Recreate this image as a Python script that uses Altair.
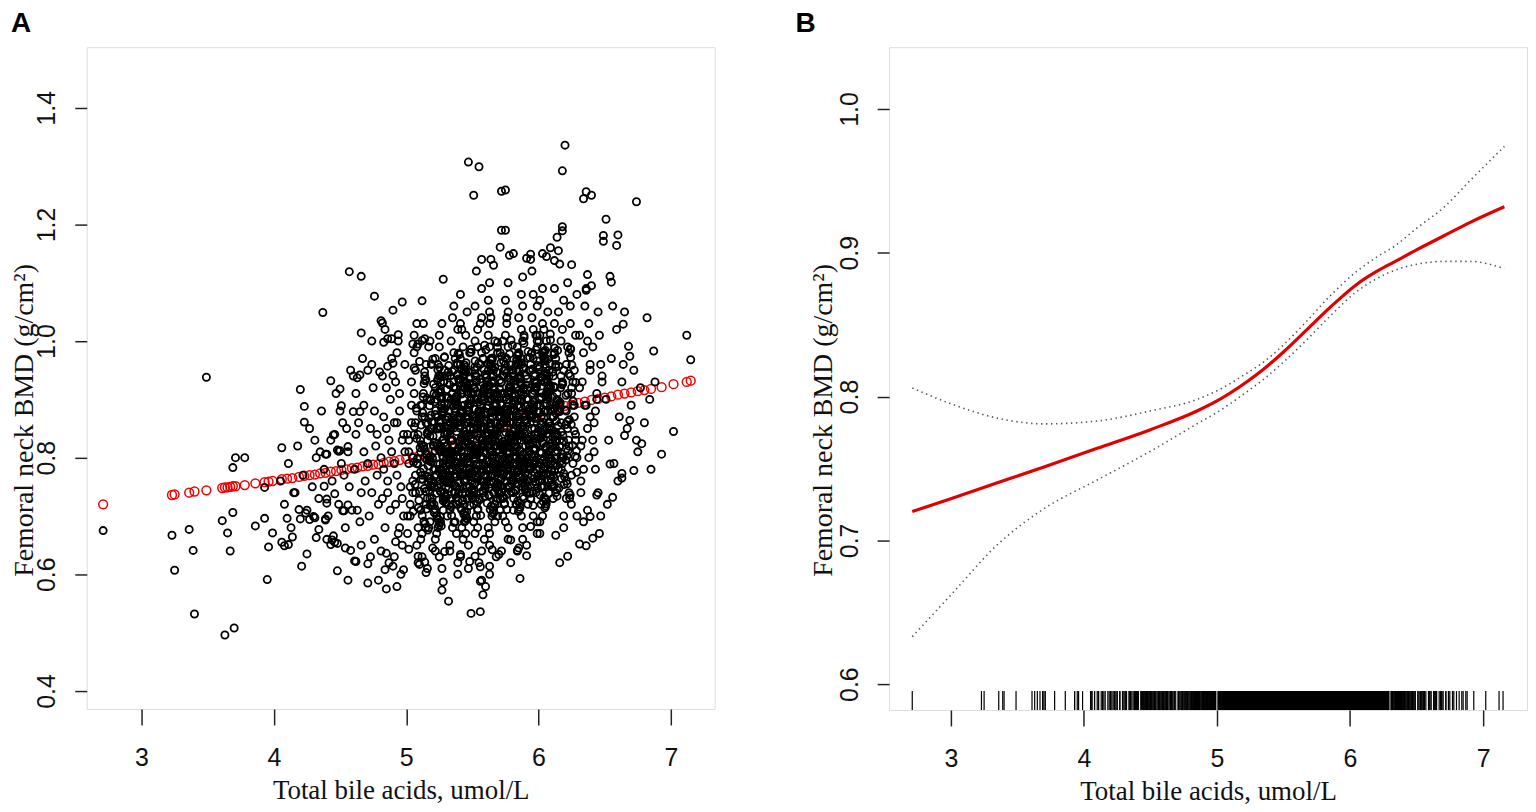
import altair as alt
import pandas as pd

# ---------------- Panel A: scatter (Total bile acids vs femoral neck BMD) ----------------
left_tail = [(2.71,0.675),(3.23,0.667),(3.25,0.607),(3.36,0.677),(3.39,0.641),(3.40,0.532),(3.49,0.938),
    (3.61,0.692),(3.63,0.496),(3.65,0.671),(3.67,0.640),(3.69,0.706),(3.70,0.508),(3.69,0.783),(3.71,0.800),
    (3.78,0.800),(3.86,0.683),(3.93,0.696),(3.93,0.749),(3.96,0.647),(3.95,0.591),(3.99,0.671)]

mid_left = [(4.06,0.817),(4.06,0.655),(4.08,0.649),(4.11,0.651),(4.14,0.664),(4.10,0.696),(4.19,0.711),(4.20,0.695),
    (4.24,0.705),(4.27,0.694),(4.31,0.697),(4.15,0.740),(4.20,0.917),(4.23,0.888),(4.23,0.861),(4.31,0.830),
    (4.25,0.635),(4.21,0.614),(4.39,0.693),(4.34,0.677),(4.32,0.663),(4.39,0.806),(4.38,0.751),(4.46,0.738),
    (4.40,0.729),(4.43,0.932),(4.50,0.918),(4.51,0.889),(4.50,0.880),(4.45,0.839),(4.55,0.850),(4.56,0.819),
    (4.48,0.813),(4.50,0.812),(4.53,0.709),(4.45,0.666),(4.48,0.653),(4.44,0.659),(4.43,0.651),(4.54,0.645),
    (4.58,0.641),(4.48,0.606),(4.56,0.590),(4.61,0.623),(4.71,0.585),(4.79,0.590),(4.71,0.618),(4.85,0.575),
    (4.93,0.579),(4.60,0.940),(4.65,0.942),(4.60,0.879),(4.65,0.879),(4.63,0.937),(4.46,0.655),(4.40,0.806),
    (4.49,0.811),(4.40,0.722),(4.52,0.709),(4.56,0.719),(4.30,0.699),(4.39,0.695)]

upper_cloud = [(6.20,1.336),(6.18,1.292),(5.47,1.307),(5.55,1.299),(5.51,1.250),(5.72,1.257),(5.75,1.259),
    (6.36,1.256),(6.34,1.244),(6.40,1.250),(6.74,1.239),(6.51,1.209),(6.49,1.181),(6.49,1.171),(6.60,1.182),
    (6.59,1.164),(5.72,1.190),(5.75,1.190),(6.18,1.196),(6.18,1.189),(6.14,1.178),(5.71,1.161),(5.78,1.147),
    (5.81,1.150),(5.91,1.142),(5.94,1.149),(6.03,1.150),(6.06,1.145),(6.09,1.160),(6.12,1.138),(6.15,1.155),
    (6.16,1.132),(6.25,1.131),(5.57,1.140),(5.64,1.140),(4.57,1.119),(4.66,1.111),(4.76,1.077),(4.37,1.049),
    (4.66,1.014),(5.28,1.106),(6.37,1.114),(6.54,1.111),(6.55,1.101),(6.40,1.095),(6.36,1.087),(6.65,1.050),
    (6.64,1.029),(6.68,0.991),(6.69,0.974),(6.87,0.983),(7.12,1.010),(7.15,0.968),(7.02,0.845),(6.84,0.900),
    (4.74,0.960),(4.80,0.947),(4.86,0.957),(4.90,0.962),(4.90,0.941),(4.83,0.998),(4.86,1.004),(4.89,1.004),
    (4.94,1.011),(4.97,1.067),(4.90,1.053),(4.81,1.035),(4.82,1.031),(5.08,1.030),(5.12,1.069),(5.05,0.995),
    (5.09,0.995),(5.12,1.001),(5.14,1.004),(5.06,0.954)]

lower_cloud = [(6.93,0.806),(6.72,0.778),(6.56,0.732),(6.63,0.773),(6.63,0.765),(6.41,0.662),(6.36,0.649),
    (6.31,0.652),(6.22,0.631),(6.16,0.620),(6.13,0.667),(5.86,0.593),(5.91,0.632),(5.85,0.645),(5.84,0.641),
    (5.49,0.533),(5.56,0.536),(5.32,0.554),(5.27,0.573),(5.28,0.587),(5.56,0.588),(5.58,0.565),(5.60,0.579),
    (5.56,0.613),(5.63,0.614),(4.62,0.622),(4.84,0.608),(4.90,0.614),(4.98,0.608),(5.10,0.617),(5.14,0.621),
    (5.15,0.603),(4.85,0.636),(4.92,0.656),(5.02,0.643),(5.09,0.631),(5.20,0.645),(5.29,0.639),(5.41,0.634),
    (5.48,0.622),(5.52,0.631),(5.70,0.634),(5.65,0.642),(5.79,0.659),(5.94,0.682),(6.39,0.699),(6.44,0.736),
    (6.54,0.789),(6.78,0.824),(6.69,0.864),(6.65,0.838),(6.74,0.830)]

core_40_46 = [(4.05,0.76),(4.08,0.72),(4.11,0.79),(4.13,0.68),(4.16,0.74),(4.18,0.82),(4.22,0.77),(4.25,0.71),
    (4.27,0.85),(4.29,0.75),(4.32,0.80),(4.34,0.73),(4.36,0.88),(4.38,0.78),(4.41,0.70),(4.43,0.83),(4.44,0.76),
    (4.47,0.91),(4.49,0.72),(4.51,0.79),(4.52,0.86),(4.54,0.68),(4.56,0.81),(4.57,0.75),(4.58,0.95),(4.59,0.71),
    (4.53,0.77),(4.46,0.84),(4.40,0.66),(4.35,0.81)]

core_46_50 = [(4.61,0.78),(4.63,0.71),(4.64,0.86),(4.66,0.74),(4.62,0.91),(4.68,0.81),(4.65,0.69),(4.67,0.97),
    (4.69,0.76),(4.62,0.84),(4.66,0.65),(4.68,0.89),(4.71,0.79),(4.72,0.70),(4.73,0.85),(4.74,0.74),(4.75,0.92),
    (4.76,0.66),(4.77,0.82),(4.78,0.77),(4.71,0.95),(4.73,0.63),(4.76,0.88),(4.79,0.72),(4.74,1.00),(4.78,0.84),
    (4.81,0.80),(4.82,0.73),(4.83,0.87),(4.84,0.68),(4.85,0.92),(4.86,0.76),(4.87,0.83),(4.88,0.71),(4.89,0.97),
    (4.81,0.64),(4.83,0.78),(4.85,0.85),(4.87,0.62),(4.88,0.90),(4.84,1.02),(4.86,0.74),(4.89,0.81),(4.82,0.94),
    (4.91,0.79),(4.92,0.72),(4.93,0.86),(4.94,0.67),(4.95,0.91),(4.96,0.75),(4.97,0.83),(4.98,0.70),(4.99,0.96),
    (4.91,0.63),(4.93,0.77),(4.95,0.88),(4.96,0.60),(4.98,0.84),(4.94,1.00),(4.97,0.73),(4.92,0.93),(4.99,0.81),
    (4.95,0.68),(4.91,0.86),(4.97,0.65),(4.93,0.98)]

core_50_53 = [(5.02,0.81),(5.05,0.74),(5.08,0.88),(5.01,0.70),(5.04,0.93),(5.07,0.77),(5.09,0.84),(5.03,0.72),
    (5.06,0.98),(5.08,0.65),(5.02,0.79),(5.04,0.89),(5.09,0.62),(5.01,0.84),(5.06,1.01),(5.03,0.75),(5.07,0.95),
    (5.05,0.80),(5.09,0.68),(5.04,0.86),(5.01,0.67),(5.08,0.99),(5.02,0.83),(5.06,0.91),(5.05,0.76),(5.07,0.86),
    (5.03,0.70),(5.08,0.79),
    (5.13,0.82),(5.16,0.73),(5.11,0.89),(5.18,0.69),(5.14,0.94),(5.12,0.77),(5.19,0.85),(5.15,0.72),(5.17,0.99),
    (5.11,0.66),(5.14,0.80),(5.18,0.90),(5.12,0.63),(5.16,0.84),(5.13,1.03),(5.19,0.75),(5.15,0.96),(5.11,0.81),
    (5.17,0.68),(5.14,0.87),(5.12,0.67),(5.18,1.00),(5.16,0.83),(5.13,0.91),(5.19,0.76),(5.15,0.86),(5.11,0.71),
    (5.17,0.80),(5.18,0.73),(5.12,0.89),(5.16,0.61),(5.14,0.77),(5.19,0.96),(5.13,0.82),
    (5.24,0.82),(5.21,0.75),(5.27,0.89),(5.23,0.70),(5.29,0.94),(5.22,0.78),(5.26,0.86),(5.28,0.73),(5.25,0.99),
    (5.22,0.66),(5.28,0.80),(5.21,0.91),(5.25,0.63),(5.23,0.85),(5.27,1.03),(5.29,0.76),(5.24,0.96),(5.21,0.82),
    (5.26,0.69),(5.28,0.88),(5.23,0.67),(5.25,1.01),(5.29,0.84),(5.22,0.92),(5.27,0.77),(5.24,0.87),(5.21,0.72),
    (5.26,0.81),(5.29,0.74),(5.23,0.90),(5.27,0.61),(5.25,0.78),(5.22,0.97),(5.28,0.83),(5.24,0.68),(5.26,0.93),
    (5.21,0.71),(5.28,0.79),(5.23,0.87),(5.29,0.95),(5.25,0.85),(5.22,0.64)]

core_53_56 = [(5.35,0.83),(5.31,0.76),(5.38,0.90),(5.33,0.71),(5.36,0.95),(5.39,0.79),(5.32,0.87),(5.37,0.74),
    (5.34,1.00),(5.38,0.67),(5.31,0.81),(5.36,0.92),(5.33,0.64),(5.39,0.86),(5.35,1.04),(5.32,0.77),(5.37,0.97),
    (5.34,0.83),(5.31,0.70),(5.38,0.89),(5.35,0.68),(5.39,1.02),(5.32,0.85),(5.36,0.93),(5.33,0.78),(5.37,0.88),
    (5.34,0.73),(5.31,0.82),(5.38,0.75),(5.35,0.91),(5.39,0.62),(5.32,0.79),(5.36,0.98),(5.33,0.84),(5.37,0.69),
    (5.31,0.94),(5.38,0.72),(5.34,0.80),(5.32,0.88),(5.39,0.96),(5.36,0.86),(5.33,0.65),(5.37,0.74),(5.35,0.83),
    (5.31,0.87),(5.38,0.79),(5.34,0.90),(5.32,0.76),(5.36,1.06),(5.39,0.60),
    (5.46,0.84),(5.42,0.77),(5.49,0.91),(5.44,0.72),(5.41,0.96),(5.47,0.80),(5.43,0.88),(5.48,0.75),(5.45,1.01),
    (5.42,0.68),(5.49,0.82),(5.44,0.93),(5.47,0.65),(5.41,0.87),(5.46,1.05),(5.43,0.78),(5.48,0.98),(5.45,0.84),
    (5.42,0.71),(5.49,0.90),(5.44,0.69),(5.41,1.03),(5.47,0.86),(5.43,0.94),(5.46,0.79),(5.48,0.89),(5.45,0.74),
    (5.42,0.83),(5.49,0.76),(5.44,0.92),(5.41,0.63),(5.47,0.80),(5.43,0.99),(5.48,0.85),(5.45,0.70),(5.42,0.95),
    (5.46,0.73),(5.49,0.81),(5.44,0.89),(5.41,0.97),(5.47,0.87),(5.43,0.66),(5.48,0.75),(5.45,0.84),(5.42,0.88),
    (5.46,0.80),(5.49,0.91),(5.44,0.77),(5.41,1.08),(5.47,0.61),(5.43,0.93),(5.48,0.82),(5.45,0.67),(5.42,1.02),
    (5.46,0.86),(5.44,0.76),
    (5.57,0.85),(5.53,0.78),(5.51,0.92),(5.55,0.73),(5.58,0.97),(5.52,0.81),(5.56,0.89),(5.59,0.76),(5.54,1.02),
    (5.51,0.69),(5.57,0.83),(5.53,0.94),(5.59,0.66),(5.55,0.88),(5.52,1.06),(5.58,0.79),(5.54,0.99),(5.56,0.85),
    (5.51,0.72),(5.59,0.91),(5.53,0.70),(5.57,1.04),(5.55,0.87),(5.52,0.95),(5.58,0.80),(5.54,0.90),(5.56,0.75),
    (5.51,0.84),(5.59,0.77),(5.53,0.93),(5.57,0.64),(5.55,0.81),(5.52,1.00),(5.58,0.86),(5.54,0.71),(5.56,0.96),
    (5.51,0.74),(5.59,0.82),(5.53,0.90),(5.57,0.98),(5.55,0.88),(5.52,0.67),(5.58,0.76),(5.54,0.85),(5.56,0.89),
    (5.51,0.81),(5.59,0.92),(5.53,0.78),(5.57,1.09),(5.55,0.62),(5.52,0.94),(5.58,0.83),(5.54,0.68),(5.56,1.03),
    (5.51,0.87),(5.59,0.77),(5.53,1.12),(5.57,0.59)]

core_56_59 = [(5.68,0.86),(5.64,0.79),(5.61,0.93),(5.66,0.74),(5.69,0.98),(5.62,0.82),(5.65,0.90),(5.67,0.77),
    (5.63,1.03),(5.69,0.70),(5.61,0.84),(5.66,0.95),(5.63,0.67),(5.68,0.89),(5.62,1.07),(5.65,0.80),(5.67,1.00),
    (5.64,0.86),(5.69,0.73),(5.61,0.92),(5.66,0.71),(5.63,1.05),(5.68,0.88),(5.62,0.96),(5.65,0.81),(5.67,0.91),
    (5.64,0.76),(5.69,0.85),(5.61,0.78),(5.66,0.94),(5.63,0.65),(5.68,0.82),(5.62,1.01),(5.65,0.87),(5.67,0.72),
    (5.64,0.97),(5.69,0.75),(5.61,0.83),(5.66,0.91),(5.63,0.99),(5.68,0.89),(5.62,0.68),(5.65,0.77),(5.67,0.86),
    (5.64,0.90),(5.69,0.82),(5.61,0.93),(5.66,0.79),(5.63,1.10),(5.68,0.63),(5.62,0.95),(5.65,0.84),(5.67,0.69),
    (5.64,1.04),(5.69,0.88),(5.61,0.78),(5.66,1.13),(5.63,0.60),
    (5.79,0.86),(5.75,0.79),(5.72,0.93),(5.77,0.75),(5.71,0.98),(5.74,0.82),(5.78,0.90),(5.73,0.77),(5.76,1.03),
    (5.71,0.71),(5.79,0.84),(5.74,0.95),(5.77,0.68),(5.72,0.89),(5.75,1.07),(5.78,0.80),(5.73,1.00),(5.76,0.86),
    (5.71,0.73),(5.79,0.92),(5.74,0.72),(5.77,1.05),(5.72,0.88),(5.75,0.96),(5.78,0.81),(5.73,0.91),(5.76,0.76),
    (5.71,0.85),(5.79,0.78),(5.74,0.94),(5.77,0.66),(5.72,0.82),(5.75,1.01),(5.78,0.87),(5.73,0.73),(5.76,0.97),
    (5.71,0.75),(5.79,0.83),(5.74,0.91),(5.77,0.99),(5.72,0.89),(5.75,0.69),(5.78,0.77),(5.73,0.86),(5.76,0.90),
    (5.71,0.82),(5.79,0.93),(5.74,0.79),(5.77,1.10),(5.72,0.64),(5.75,0.95),(5.78,0.84),(5.73,0.70),(5.76,1.04),
    (5.71,0.88),(5.79,0.62),
    (5.83,0.87),(5.86,0.80),(5.81,0.94),(5.88,0.75),(5.84,0.99),(5.87,0.83),(5.82,0.91),(5.89,0.78),(5.85,1.04),
    (5.81,0.71),(5.86,0.85),(5.83,0.96),(5.88,0.68),(5.84,0.90),(5.87,1.08),(5.82,0.81),(5.89,1.01),(5.85,0.87),
    (5.81,0.74),(5.86,0.93),(5.83,0.72),(5.88,1.06),(5.84,0.89),(5.87,0.97),(5.82,0.82),(5.89,0.92),(5.85,0.77),
    (5.81,0.86),(5.86,0.79),(5.83,0.95),(5.88,0.66),(5.84,0.83),(5.87,1.02),(5.82,0.88),(5.89,0.73),(5.85,0.98),
    (5.81,0.76),(5.86,0.84),(5.83,0.92),(5.88,1.00),(5.84,0.90),(5.87,0.70),(5.82,0.78),(5.89,0.87),(5.85,0.91),
    (5.81,0.83),(5.86,0.94),(5.83,0.80),(5.88,1.11),(5.84,0.64),(5.87,0.96),(5.82,0.85)]

core_59_63 = [(5.94,0.87),(5.91,0.80),(5.97,0.94),(5.93,0.76),(5.99,0.99),(5.92,0.83),(5.96,0.91),(5.98,0.78),
    (5.95,1.04),(5.92,0.72),(5.97,0.85),(5.94,0.96),(5.99,0.69),(5.91,0.90),(5.96,1.08),(5.93,0.81),(5.98,1.01),
    (5.95,0.87),(5.91,0.74),(5.97,0.93),(5.94,0.73),(5.99,1.06),(5.92,0.89),(5.96,0.97),(5.93,0.82),(5.98,0.92),
    (5.95,0.77),(5.91,0.86),(5.97,0.79),(5.94,0.95),(5.99,0.67),(5.92,0.83),(5.96,1.02),(5.93,0.88),(5.98,0.74),
    (5.95,0.98),(5.91,0.76),(5.97,0.84),(5.94,0.92),(5.99,1.00),(5.92,0.90),(5.96,0.70),(5.93,0.78),(5.98,0.87),
    (5.95,1.12),(5.91,0.65),(5.97,0.94),(5.94,1.14),
    (6.05,0.88),(6.02,0.81),(6.08,0.95),(6.01,0.76),(6.06,1.00),(6.03,0.84),(6.09,0.92),(6.04,0.79),(6.07,1.05),
    (6.02,0.72),(6.08,0.86),(6.05,0.97),(6.01,0.69),(6.06,0.91),(6.03,1.09),(6.09,0.82),(6.04,1.02),(6.07,0.88),
    (6.02,0.75),(6.08,0.94),(6.05,0.73),(6.01,1.07),(6.06,0.90),(6.03,0.98),(6.09,0.83),(6.04,0.93),(6.07,0.78),
    (6.02,0.87),(6.08,0.80),(6.05,0.96),(6.01,0.67),(6.06,0.84),(6.03,1.03),(6.09,0.89),(6.04,0.75),(6.07,0.99),
    (6.02,0.77),(6.08,0.85),(6.05,0.93),(6.01,1.01),(6.06,0.91),(6.03,0.70),
    (6.16,0.88),(6.13,0.81),(6.19,0.95),(6.11,0.77),(6.17,1.00),(6.14,0.84),(6.12,0.92),(6.18,0.79),(6.15,1.05),
    (6.11,0.73),(6.17,0.86),(6.13,0.97),(6.19,0.70),(6.14,0.91),(6.12,1.09),(6.16,0.82),(6.18,1.02),(6.15,0.88),
    (6.11,0.75),(6.17,0.94),(6.13,0.74),(6.19,1.07),(6.14,0.90),(6.12,0.98),(6.16,0.83),(6.18,0.93),(6.15,0.78),
    (6.11,0.87),(6.17,0.80),(6.13,0.96),(6.19,0.68),(6.14,0.84),(6.12,1.03),(6.16,0.89),
    (6.27,0.89),(6.23,0.82),(6.21,0.96),(6.25,0.77),(6.28,1.01),(6.22,0.85),(6.26,0.93),(6.29,0.80),(6.24,1.06),
    (6.21,0.73),(6.27,0.87),(6.23,0.98),(6.29,0.70),(6.25,0.92),(6.22,1.10),(6.28,0.83),(6.24,1.03),(6.26,0.89),
    (6.21,0.76),(6.27,0.95),(6.23,0.74),(6.29,1.08),(6.25,0.91),(6.22,0.99),(6.28,0.84),(6.24,0.94),(6.26,0.79),
    (6.21,0.88)]

core_63_69 = [(6.36,0.89),(6.32,0.82),(6.39,0.96),(6.34,0.78),(6.31,1.01),(6.37,0.85),(6.33,0.93),(6.38,0.80),
    (6.35,1.06),(6.32,0.74),(6.39,0.87),(6.34,0.98),(6.37,0.71),(6.31,0.92),(6.36,1.09),(6.33,0.83),(6.38,1.03),
    (6.35,0.89),(6.32,0.76),(6.39,0.95),(6.34,0.69),(6.37,1.00),
    (6.44,0.90),(6.41,0.83),(6.47,0.96),(6.43,0.78),(6.46,1.01),(6.42,0.86),(6.48,0.93),(6.45,0.74),(6.41,0.99),
    (6.47,0.70),(6.43,0.88),(6.45,1.05),(6.42,0.81),(6.48,0.94),(6.46,0.67),(6.44,0.91),
    (6.51,0.90),(6.53,0.83),(6.55,0.97),(6.57,0.79),(6.59,1.02),(6.61,0.87),(6.63,0.93),(6.52,0.72),(6.56,1.06),
    (6.60,0.76),(6.64,0.96),(6.67,0.85),(6.70,0.89),(6.72,0.95),(6.75,0.81),(6.77,0.92),(6.80,0.86),(6.82,1.04),
    (6.85,0.78),(6.88,0.93)]

dense_51_57 = [
    (5.104,0.742),(5.137,0.815),(5.162,0.768),(5.188,0.873),(5.121,0.701),(5.149,0.934),(5.176,0.795),(5.113,0.856),
    (5.195,0.724),(5.131,0.781),(5.158,0.902),(5.184,0.753),(5.107,0.829),(5.142,0.687),(5.169,0.846),(5.192,0.961),
    (5.126,0.763),(5.153,0.806),(5.181,0.718),(5.117,0.889),(5.146,0.742),(5.173,0.868),(5.199,0.799),(5.135,0.927),
    (5.164,0.676),
    (5.206,0.756),(5.233,0.823),(5.268,0.779),(5.291,0.884),(5.219,0.712),(5.247,0.941),(5.275,0.803),(5.211,0.862),
    (5.297,0.733),(5.238,0.789),(5.256,0.913),(5.283,0.761),(5.203,0.837),(5.244,0.694),(5.262,0.852),(5.288,0.972),
    (5.228,0.771),(5.251,0.814),(5.279,0.726),(5.215,0.896),(5.241,0.748),(5.272,0.877),(5.294,0.808),(5.236,0.933),
    (5.265,0.683),
    (5.308,0.762),(5.336,0.829),(5.363,0.786),(5.389,0.891),(5.322,0.719),(5.348,0.948),(5.374,0.811),(5.314,0.869),
    (5.396,0.739),(5.331,0.795),(5.357,0.921),(5.382,0.768),(5.305,0.844),(5.343,0.701),(5.368,0.859),(5.393,0.979),
    (5.327,0.777),(5.352,0.821),(5.378,0.732),(5.318,0.903),(5.345,0.755),(5.371,0.884),(5.398,0.815),(5.334,0.941),
    (5.361,0.689),
    (5.409,0.768),(5.437,0.836),(5.464,0.792),(5.488,0.898),(5.423,0.726),(5.449,0.955),(5.476,0.817),(5.412,0.876),
    (5.495,0.745),(5.432,0.801),(5.458,0.928),(5.483,0.774),(5.406,0.851),(5.441,0.707),(5.467,0.866),(5.491,0.986),
    (5.428,0.783),(5.453,0.828),(5.479,0.738),(5.416,0.911),(5.446,0.761),(5.472,0.891),(5.497,0.822),(5.435,0.948),
    (5.462,0.695),
    (5.507,0.773),(5.538,0.842),(5.565,0.798),(5.589,0.905),(5.524,0.731),(5.548,0.962),(5.577,0.823),(5.513,0.883),
    (5.594,0.751),(5.533,0.807),(5.559,0.935),(5.584,0.779),(5.504,0.858),(5.542,0.712),(5.568,0.873),(5.592,0.993),
    (5.529,0.789),(5.554,0.834),(5.578,0.743),(5.517,0.918),(5.545,0.766),(5.573,0.898),(5.598,0.828),(5.536,0.955),
    (5.563,0.701),
    (5.608,0.778),(5.639,0.847),(5.664,0.803),(5.688,0.911),(5.623,0.736),(5.649,0.968),(5.676,0.828),(5.612,0.889),
    (5.695,0.756),(5.632,0.812),(5.658,0.941),(5.683,0.784),(5.605,0.864),(5.643,0.717),(5.667,0.879),(5.691,0.998),
    (5.628,0.794),(5.653,0.839),(5.679,0.748),(5.616,0.924),(5.646,0.771),(5.672,0.904),(5.697,0.833),(5.637,0.961),
    (5.662,0.706)]

dense_57_63 = [
    (5.709,0.782),(5.738,0.851),(5.763,0.807),(5.787,0.915),(5.722,0.741),(5.748,0.972),(5.775,0.832),(5.713,0.893),
    (5.794,0.761),(5.731,0.816),(5.757,0.945),(5.782,0.788),(5.706,0.868),(5.744,0.722),(5.766,0.883),(5.792,1.002),
    (5.727,0.798),(5.752,0.843),(5.778,0.752),(5.715,0.928),(5.745,0.775),(5.771,0.908),(5.796,0.837),(5.736,0.965),
    (5.761,0.711),
    (5.808,0.786),(5.837,0.855),(5.862,0.811),(5.886,0.919),(5.821,0.745),(5.847,0.976),(5.874,0.836),(5.812,0.897),
    (5.893,0.765),(5.830,0.820),(5.856,0.949),(5.881,0.792),(5.805,0.872),(5.843,0.726),(5.865,0.887),(5.891,1.006),
    (5.826,0.802),(5.851,0.847),(5.877,0.756),(5.814,0.932),(5.844,0.779),(5.870,0.912),(5.895,0.841),(5.835,0.969),
    (5.860,0.715),
    (5.907,0.789),(5.936,0.858),(5.961,0.814),(5.985,0.922),(5.920,0.748),(5.946,0.979),(5.973,0.839),(5.911,0.900),
    (5.992,0.768),(5.929,0.823),(5.955,0.952),(5.980,0.795),(5.904,0.875),(5.942,0.729),(5.964,0.890),(5.990,1.009),
    (5.925,0.805),(5.950,0.850),(5.976,0.759),(5.913,0.935),(5.943,0.782),(5.969,0.915),(5.994,0.844),(5.934,0.972),
    (5.959,0.718),
    (6.006,0.792),(6.035,0.861),(6.060,0.817),(6.084,0.925),(6.019,0.751),(6.045,0.982),(6.072,0.842),(6.010,0.903),
    (6.091,0.771),(6.028,0.826),(6.054,0.955),(6.079,0.798),(6.003,0.878),(6.041,0.732),(6.063,0.893),(6.089,1.012),
    (6.024,0.808),(6.049,0.853),(6.075,0.762),(6.012,0.938),(6.042,0.785),(6.068,0.918),(6.093,0.847),(6.033,0.975),
    (6.058,0.721),
    (6.105,0.794),(6.134,0.863),(6.159,0.819),(6.183,0.927),(6.118,0.753),(6.144,0.984),(6.171,0.844),(6.109,0.905),
    (6.190,0.773),(6.127,0.828),(6.153,0.957),(6.178,0.800),(6.102,0.880),(6.140,0.734),(6.162,0.895),(6.188,0.801),
    (6.123,0.810),(6.148,0.855),(6.174,0.764),(6.111,0.940),(6.141,0.787),(6.167,0.920),
    (6.204,0.796),(6.233,0.865),(6.258,0.821),(6.282,0.929),(6.217,0.755),(6.243,0.986),(6.270,0.846),(6.208,0.907),
    (6.289,0.775),(6.226,0.830),(6.252,0.959),(6.277,0.802),(6.201,0.882),(6.239,0.736),(6.261,0.897),(6.287,0.812),
    (6.222,0.812),(6.247,0.857)]

dense_50_55 = [
    (5.053,0.708),(5.121,0.870),(5.088,0.789),(5.142,0.932),(5.067,0.754),(5.105,0.817),(5.134,0.691),(5.076,0.885),
    (5.113,0.763),(5.059,0.839),(5.096,0.727),(5.128,0.904),(5.083,0.798),(5.147,0.680),(5.062,0.853),(5.108,0.775),
    (5.139,0.947),(5.071,0.740),(5.117,0.822),(5.091,0.714),(5.124,0.877),(5.056,0.792),(5.101,0.965),(5.136,0.747),
    (5.079,0.833),
    (5.153,0.712),(5.221,0.874),(5.188,0.793),(5.242,0.936),(5.167,0.758),(5.205,0.821),(5.234,0.695),(5.176,0.889),
    (5.213,0.767),(5.159,0.843),(5.196,0.731),(5.228,0.908),(5.183,0.802),(5.247,0.684),(5.162,0.857),(5.208,0.779),
    (5.239,0.951),(5.171,0.744),(5.217,0.826),(5.191,0.718),(5.224,0.881),(5.156,0.796),(5.201,0.969),(5.236,0.751),
    (5.179,0.837),(5.211,0.706),(5.244,0.912),(5.165,0.786),(5.193,0.861),(5.231,0.739),(5.186,0.898),(5.219,0.812),
    (5.174,0.764),(5.207,0.926),(5.238,0.849),
    (5.338,0.716),(5.270,0.878),(5.303,0.797),(5.249,0.940),(5.324,0.762),(5.286,0.825),(5.257,0.699),(5.315,0.893),
    (5.278,0.771),(5.332,0.847),(5.295,0.735),(5.263,0.912),(5.308,0.806),(5.254,0.688),(5.329,0.861),(5.283,0.783),
    (5.252,0.955),(5.320,0.748),(5.274,0.830),(5.300,0.722),(5.267,0.885),(5.335,0.800),(5.290,0.973),(5.255,0.755),
    (5.312,0.841),(5.280,0.710),(5.258,0.916),(5.326,0.790),(5.298,0.865),(5.260,0.743),(5.305,0.902),(5.272,0.816),
    (5.317,0.768),(5.284,0.930),(5.253,0.853),
    (5.354,0.720),(5.422,0.882),(5.389,0.801),(5.443,0.944),(5.368,0.766),(5.406,0.829),(5.435,0.703),(5.377,0.897),
    (5.414,0.775),(5.360,0.851),(5.397,0.739),(5.429,0.916),(5.384,0.810),(5.448,0.692),(5.363,0.865),(5.409,0.787),
    (5.440,0.959),(5.372,0.752),(5.418,0.834),(5.392,0.726),(5.425,0.889),(5.357,0.804),(5.402,0.977),(5.437,0.759),
    (5.380,0.845),(5.412,0.714),(5.445,0.920),(5.366,0.794),(5.394,0.869),(5.432,0.747),(5.387,0.906),(5.420,0.820),
    (5.375,0.772),(5.408,0.934),(5.439,0.857),
    (5.538,0.724),(5.470,0.886),(5.503,0.805),(5.449,0.948),(5.524,0.770),(5.486,0.833),(5.457,0.707),(5.515,0.901),
    (5.478,0.779),(5.532,0.855),(5.495,0.743),(5.463,0.920),(5.508,0.814),(5.454,0.696),(5.529,0.869),(5.483,0.791),
    (5.452,0.963),(5.520,0.756),(5.474,0.838),(5.500,0.730),(5.467,0.893),(5.535,0.808),(5.490,0.981),(5.455,0.763),
    (5.512,0.849),(5.480,0.718),(5.458,0.924),(5.526,0.798),(5.498,0.873),(5.460,0.751),(5.505,0.910),(5.472,0.824),
    (5.517,0.776),(5.484,0.938),(5.453,0.861)]

dense_55_62 = [
    (5.554,0.728),(5.622,0.890),(5.589,0.809),(5.643,0.952),(5.568,0.774),(5.606,0.837),(5.635,0.711),(5.577,0.905),
    (5.614,0.783),(5.560,0.859),(5.597,0.747),(5.629,0.924),(5.584,0.818),(5.648,0.700),(5.563,0.873),(5.609,0.795),
    (5.640,0.967),(5.572,0.760),(5.618,0.842),(5.592,0.734),(5.625,0.897),(5.557,0.812),(5.602,0.985),(5.637,0.767),
    (5.580,0.853),(5.612,0.722),(5.645,0.928),(5.566,0.802),(5.594,0.877),(5.632,0.755),(5.587,0.914),(5.620,0.828),
    (5.575,0.780),(5.608,0.942),(5.639,0.865),
    (5.738,0.732),(5.670,0.894),(5.703,0.813),(5.649,0.956),(5.724,0.778),(5.686,0.841),(5.657,0.715),(5.715,0.909),
    (5.678,0.787),(5.732,0.863),(5.695,0.751),(5.663,0.928),(5.708,0.822),(5.654,0.704),(5.729,0.877),(5.683,0.799),
    (5.652,0.971),(5.720,0.764),(5.674,0.846),(5.700,0.738),(5.667,0.901),(5.735,0.816),(5.690,0.989),(5.655,0.771),
    (5.712,0.857),(5.680,0.726),(5.658,0.932),(5.726,0.806),(5.698,0.881),(5.660,0.759),(5.705,0.918),(5.672,0.832),
    (5.717,0.784),(5.684,0.946),(5.653,0.869),
    (5.754,0.736),(5.822,0.898),(5.789,0.817),(5.843,0.960),(5.768,0.782),(5.806,0.845),(5.835,0.719),(5.777,0.913),
    (5.814,0.791),(5.760,0.867),(5.797,0.755),(5.829,0.932),(5.784,0.826),(5.848,0.708),(5.763,0.881),(5.809,0.803),
    (5.840,0.975),(5.772,0.768),(5.818,0.850),(5.792,0.742),(5.825,0.905),(5.757,0.820),(5.802,0.993),(5.837,0.775),
    (5.780,0.861),(5.812,0.730),(5.845,0.936),(5.766,0.810),(5.794,0.885),(5.832,0.763),(5.787,0.922),(5.820,0.836),
    (5.775,0.788),(5.808,0.950),(5.839,0.873),
    (5.938,0.739),(5.870,0.901),(5.903,0.820),(5.849,0.963),(5.924,0.785),(5.886,0.848),(5.857,0.722),(5.915,0.916),
    (5.878,0.794),(5.932,0.870),(5.895,0.758),(5.863,0.935),(5.908,0.829),(5.854,0.711),(5.929,0.884),(5.883,0.806),
    (5.852,0.978),(5.920,0.771),(5.874,0.853),(5.900,0.745),(5.867,0.908),(5.935,0.823),(5.890,0.996),(5.855,0.778),
    (5.912,0.864),(5.880,0.733),(5.858,0.939),(5.926,0.813),(5.898,0.888),(5.860,0.766),(5.905,0.925),(5.872,0.839),
    (5.917,0.791),(5.884,0.953),(5.853,0.876),
    (5.954,0.742),(6.022,0.904),(5.989,0.823),(6.043,0.966),(5.968,0.788),(6.006,0.851),(6.035,0.725),(5.977,0.919),
    (6.014,0.797),(5.960,0.873),(5.997,0.761),(6.029,0.938),(5.984,0.832),(6.048,0.714),(5.963,0.887),(6.009,0.809),
    (6.040,0.981),(5.972,0.774),(6.018,0.856),(5.992,0.748),(6.025,0.911),(5.957,0.826),(6.002,0.999),(6.037,0.781),
    (5.980,0.867),(6.012,0.736),(6.045,0.942),(5.966,0.816),(5.994,0.891),(6.032,0.769),(5.987,0.928),(6.020,0.842),
    (5.975,0.794),(6.008,0.956),(6.039,0.879),
    (6.138,0.745),(6.070,0.907),(6.103,0.826),(6.049,0.969),(6.124,0.791),(6.086,0.854),(6.057,0.728),(6.115,0.922),
    (6.078,0.800),(6.132,0.876),(6.095,0.764),(6.063,0.941),(6.108,0.835),(6.054,0.717),(6.129,0.890),(6.083,0.812),
    (6.052,0.984),(6.120,0.777),(6.074,0.859),(6.100,0.751),(6.067,0.914),(6.135,0.829),(6.090,1.002),(6.055,0.784),
    (6.112,0.870),(6.080,0.739),(6.058,0.945),(6.126,0.819),
    (6.154,0.748),(6.222,0.910),(6.189,0.829),(6.243,0.972),(6.168,0.794),(6.206,0.857),(6.235,0.731),(6.177,0.925),
    (6.214,0.803),(6.160,0.879),(6.197,0.767),(6.229,0.944),(6.184,0.838),(6.248,0.720),(6.163,0.893),(6.209,0.815),
    (6.240,0.987),(6.172,0.780),(6.218,0.862),(6.192,0.754)]

# darkest part of the cloud (x 5.25-6.15), read column by column
darkest_x = [
    5.295,5.262,5.333,5.278,5.317,5.341,5.254,5.303,5.286,5.325,5.269,5.312,5.348,5.281,5.258,5.307,5.336,5.273,5.299,5.321,5.264,5.344,5.289,5.315,5.252,5.329,5.276,5.308,5.338,5.267,5.294,5.319,5.283,
    5.395,5.362,5.433,5.378,5.417,5.441,5.354,5.403,5.386,5.425,5.369,5.412,5.448,5.381,5.358,5.407,5.436,5.373,5.399,5.421,5.364,5.444,5.389,5.415,5.352,5.429,5.376,5.408,5.438,5.367,5.394,5.419,5.383,
    5.495,5.462,5.533,5.478,5.517,5.541,5.454,5.503,5.486,5.525,5.469,5.512,5.548,5.481,5.458,5.507,5.536,5.473,5.499,5.521,5.464,5.544,5.489,5.515,5.452,5.529,5.476,5.508,5.538,5.467,5.494,5.519,5.483,
    5.595,5.562,5.633,5.578,5.617,5.641,5.554,5.603,5.586,5.625,5.569,5.612,5.648,5.581,5.558,5.607,5.636,5.573,5.599,5.621,5.564,5.644,5.589,5.615,5.552,5.629,5.576,5.608,5.638,5.567,5.594,5.619,5.583,
    5.695,5.662,5.733,5.678,5.717,5.741,5.654,5.703,5.686,5.725,5.669,5.712,5.748,5.681,5.658,5.707,5.736,5.673,5.699,5.721,5.664,5.744,5.689,5.715,5.652,5.729,5.676,5.708,5.738,5.667,5.694,5.719,5.683,
    5.795,5.762,5.833,5.778,5.817,5.841,5.754,5.803,5.786,5.825,5.769,5.812,5.848,5.781,5.758,5.807,5.836,5.773,5.799,5.821,5.764,5.844,5.789,5.815,5.752,5.829,5.776,5.808,5.838,5.767,5.794,5.819,5.783,
    5.895,5.862,5.933,5.878,5.917,5.941,5.854,5.903,5.886,5.925,5.869,5.912,5.948,5.881,5.858,5.907,5.936,5.873,5.899,5.921,5.864,5.944,5.889,5.915,5.852,5.929,5.876,5.908,5.938,5.867,5.894,5.919,5.883,
    5.995,5.962,6.033,5.978,6.017,6.041,5.954,6.003,5.986,6.025,5.969,6.012,6.048,5.981,5.958,6.007,6.036,5.973,5.999,6.021,5.964,6.044,5.989,6.015,5.952,6.029,5.976,6.008,6.038,5.967,5.994,6.019,5.983,
    6.095,6.062,6.133,6.078,6.117,6.141,6.054,6.103,6.086,6.125,6.069,6.112,6.148,6.081,6.058,6.107,6.136,6.073,6.099,6.121,6.064,6.144,6.089,6.115,6.052,6.129,6.076,6.108,6.138,6.067,6.094,6.119,6.083]
darkest_y = [
    0.728,0.905,0.812,0.764,0.947,0.851,0.789,0.723,0.884,0.806,0.939,0.757,0.868,0.831,0.742,0.917,0.797,0.873,0.749,0.958,0.819,0.782,0.893,0.736,0.862,0.925,0.774,0.841,0.808,0.901,0.768,0.855,0.931,
    0.935,0.859,0.772,0.905,0.812,0.845,0.778,0.929,0.866,0.740,0.897,0.786,0.823,0.962,0.753,0.877,0.801,0.921,0.746,0.835,0.872,0.761,0.943,0.810,0.888,0.727,0.793,0.855,0.951,0.768,0.816,0.909,0.732,
    0.736,0.913,0.820,0.772,0.955,0.859,0.797,0.731,0.892,0.814,0.947,0.765,0.876,0.839,0.750,0.925,0.805,0.881,0.757,0.966,0.827,0.790,0.901,0.744,0.870,0.933,0.782,0.849,0.816,0.909,0.776,0.863,0.939,
    0.943,0.867,0.780,0.913,0.820,0.853,0.786,0.937,0.874,0.748,0.905,0.794,0.831,0.970,0.761,0.885,0.809,0.929,0.754,0.843,0.880,0.769,0.951,0.818,0.896,0.735,0.801,0.863,0.959,0.776,0.824,0.917,0.740,
    0.744,0.921,0.828,0.780,0.963,0.867,0.805,0.739,0.900,0.822,0.955,0.773,0.884,0.847,0.758,0.933,0.813,0.889,0.765,0.974,0.835,0.798,0.909,0.752,0.878,0.941,0.790,0.857,0.824,0.917,0.784,0.871,0.947,
    0.951,0.875,0.788,0.921,0.828,0.861,0.794,0.945,0.882,0.756,0.913,0.802,0.839,0.978,0.769,0.893,0.817,0.937,0.762,0.851,0.888,0.777,0.959,0.826,0.904,0.743,0.809,0.871,0.967,0.784,0.832,0.925,0.748,
    0.752,0.929,0.836,0.788,0.971,0.875,0.813,0.747,0.908,0.830,0.963,0.781,0.892,0.855,0.766,0.941,0.821,0.897,0.773,0.982,0.843,0.806,0.917,0.760,0.886,0.949,0.798,0.865,0.832,0.925,0.792,0.879,0.955,
    0.958,0.882,0.795,0.928,0.835,0.868,0.801,0.952,0.889,0.763,0.920,0.809,0.846,0.985,0.776,0.900,0.824,0.944,0.769,0.858,0.895,0.784,0.966,0.833,0.911,0.750,0.816,0.878,0.974,0.791,0.839,0.932,0.755,
    0.758,0.935,0.842,0.794,0.977,0.881,0.819,0.753,0.914,0.836,0.969,0.787,0.898,0.861,0.772,0.947,0.827,0.903,0.779,0.988,0.849,0.812,0.923,0.766,0.892,0.955,0.804,0.871,0.838,0.931,0.798,0.885,0.961]

# fitted values (red circles) read along the red band of panel A
fitted_x = [2.71,3.23,3.25,3.36,3.40,3.49,3.61,3.63,3.65,3.67,3.69,3.71,3.78,3.86,3.93,3.96,3.99,4.06,4.10,4.14,
    4.19,4.23,4.27,4.31,4.35,4.39,4.43,4.47,4.51,4.55,4.59,4.63,4.67,4.71,4.75,4.79,4.83,4.87,4.91,4.95,5.00,
    5.05,5.10,5.15,5.20,5.25,5.30,5.35,5.40,5.45,5.50,5.55,5.60,5.65,5.70,5.75,5.80,5.85,5.90,5.95,6.00,6.05,
    6.10,6.15,6.20,6.25,6.30,6.35,6.40,6.45,6.50,6.55,6.60,6.65,6.70,6.75,6.80,6.85,6.93,7.02,7.12,7.15]
fitted_y = [0.720,0.736,0.737,0.740,0.742,0.744,0.748,0.749,0.749,0.750,0.751,0.751,0.753,0.756,0.758,0.759,0.760,
    0.763,0.764,0.765,0.767,0.769,0.770,0.771,0.773,0.774,0.776,0.777,0.779,0.780,0.782,0.783,0.785,0.786,0.788,
    0.789,0.791,0.793,0.794,0.796,0.798,0.801,0.804,0.807,0.810,0.814,0.817,0.821,0.825,0.829,0.833,0.837,0.841,
    0.846,0.850,0.855,0.859,0.863,0.867,0.872,0.876,0.879,0.883,0.886,0.889,0.891,0.894,0.896,0.899,0.901,0.903,
    0.905,0.908,0.910,0.912,0.914,0.916,0.918,0.921,0.926,0.930,0.932]

# ---------------- Panel B: smooth curve with 95% CI ----------------
curve_x     = [2.71, 3.00, 3.35, 3.70, 4.10, 4.50, 4.85, 5.00, 5.22, 5.35, 5.50, 5.67, 5.85, 6.05, 6.20, 6.34, 6.50, 6.71, 6.90, 7.16]
curve_fit   = [0.720,0.729,0.740,0.751,0.764,0.777,0.790,0.797,0.810,0.819,0.831,0.846,0.862,0.878,0.887,0.894,0.902,0.912,0.921,0.932]
curve_upper = [0.806,0.795,0.785,0.781,0.783,0.790,0.798,0.804,0.816,0.824,0.836,0.852,0.870,0.887,0.897,0.905,0.917,0.932,0.950,0.974]
curve_lower = [0.633,0.662,0.697,0.722,0.742,0.762,0.781,0.789,0.803,0.812,0.824,0.839,0.856,0.873,0.882,0.888,0.892,0.894,0.894,0.889]

x_ticks = [3, 4, 5, 6, 7]
a_y_ticks = [0.4, 0.6, 0.8, 1.0, 1.2, 1.4]
b_y_ticks = [0.6, 0.7, 0.8, 0.9, 1.0]

X_TITLE = "Total bile acids, umol/L"
Y_TITLE = "Femoral neck BMD (g/cm\u00b2)"
SANS = "Liberation Sans"
SERIF = "Liberation Serif"

all_points = (left_tail + mid_left + upper_cloud + lower_cloud + core_40_46 + core_46_50 + core_50_53
              + core_53_56 + core_56_59 + core_59_63 + core_63_69 + dense_51_57 + dense_57_63
              + dense_50_55 + dense_55_62 + list(zip(darkest_x, darkest_y)))
scatter_df = pd.DataFrame(all_points, columns=["tba", "bmd"])
fitted_df = pd.DataFrame({"tba": fitted_x, "bmd": fitted_y})
curve_df = pd.DataFrame({"tba": curve_x, "fit": curve_fit, "upper": curve_upper, "lower": curve_lower})
rug_df = scatter_df[["tba"]].copy()


def x_axis():
    return alt.Axis(values=x_ticks, title=X_TITLE, grid=False, domain=False,
                    tickSize=16, tickWidth=1.5, tickColor="#222",
                    labelFont=SANS, labelFontSize=25, labelColor="#111", labelPadding=21,
                    titleFont=SERIF, titleFontSize=27, titleFontWeight="normal", titleColor="#111",
                    titleY=90, titleBaseline="alphabetic")


def y_axis(values, title_x):
    return alt.Axis(values=values, format=".1f", title=Y_TITLE, grid=False, domain=False,
                    tickSize=12, tickWidth=1.5, tickColor="#222",
                    labelFont=SANS, labelFontSize=25, labelColor="#111", labelPadding=20,
                    labelAngle=270, labelAlign="center", labelBaseline="alphabetic",
                    titleFont=SERIF, titleFontSize=28, titleFontWeight="normal", titleColor="#111",
                    titleAngle=270, titleAlign="center", titleBaseline="alphabetic",
                    titleX=title_x, titleY=374)


xA = alt.Scale(domain=[2.586, 7.331], zero=False, nice=False)
yA = alt.Scale(domain=[0.369, 1.504], zero=False, nice=False)
xB = alt.Scale(domain=[2.536, 7.330], zero=False, nice=False)
yB = alt.Scale(domain=[0.582, 1.043], zero=False, nice=False)

# ---------- Panel A ----------
red_pts = alt.Chart(fitted_df).mark_point(shape="circle", filled=False, size=78, strokeWidth=1.5,
                                          color="#ee0000", opacity=1).encode(
    x=alt.X("tba:Q", scale=xA, axis=x_axis()),
    y=alt.Y("bmd:Q", scale=yA, axis=y_axis(a_y_ticks, -54)),
)
black_pts = alt.Chart(scatter_df).mark_point(shape="circle", filled=False, size=52, strokeWidth=1.8,
                                             color="#000", opacity=1).encode(
    x=alt.X("tba:Q", scale=xA, axis=x_axis()),
    y=alt.Y("bmd:Q", scale=yA, axis=y_axis(a_y_ticks, -54)),
)
panel_a = alt.layer(red_pts, black_pts).properties(
    width=630, height=664,
    title=alt.Title("A", anchor="start", frame="bounds", font=SANS, fontSize=28,
                    fontWeight="bold", color="#000", offset=9),
)

# ---------- Panel B ----------
def b_line(field, color, width, dash=None):
    kw = dict(color=color, strokeWidth=width, interpolate="monotone")
    if dash is not None:
        kw["strokeDash"] = dash
    return alt.Chart(curve_df).mark_line(**kw).encode(
        x=alt.X("tba:Q", scale=xB, axis=x_axis()),
        y=alt.Y(f"{field}:Q", scale=yB, axis=y_axis(b_y_ticks, -58)),
    )

upper_line = b_line("upper", "#555", 1.6, [1.4, 3.6])
lower_line = b_line("lower", "#555", 1.6, [1.4, 3.6])
fit_line = b_line("fit", "#e00000", 3.2)
rug = alt.Chart(rug_df).mark_rule(color="#000", strokeWidth=1.2).encode(
    x=alt.X("tba:Q", scale=xB, axis=x_axis()),
    y=alt.value(646), y2=alt.value(665),
)
panel_b = alt.layer(rug, upper_line, lower_line, fit_line).properties(
    width=640, height=665,
    title=alt.Title("B", anchor="start", frame="bounds", font=SANS, fontSize=28,
                    fontWeight="bold", color="#000", offset=9, dx=-14),
)

chart = alt.hconcat(panel_a, panel_b, spacing=175, bounds="flush").properties(
    padding={"left": 2, "top": 0, "right": 0, "bottom": 0}
).configure_view(stroke="#222", strokeWidth=1.6).configure(background="white")

chart.save("out.html", embed_options={"renderer": "svg", "actions": False})
